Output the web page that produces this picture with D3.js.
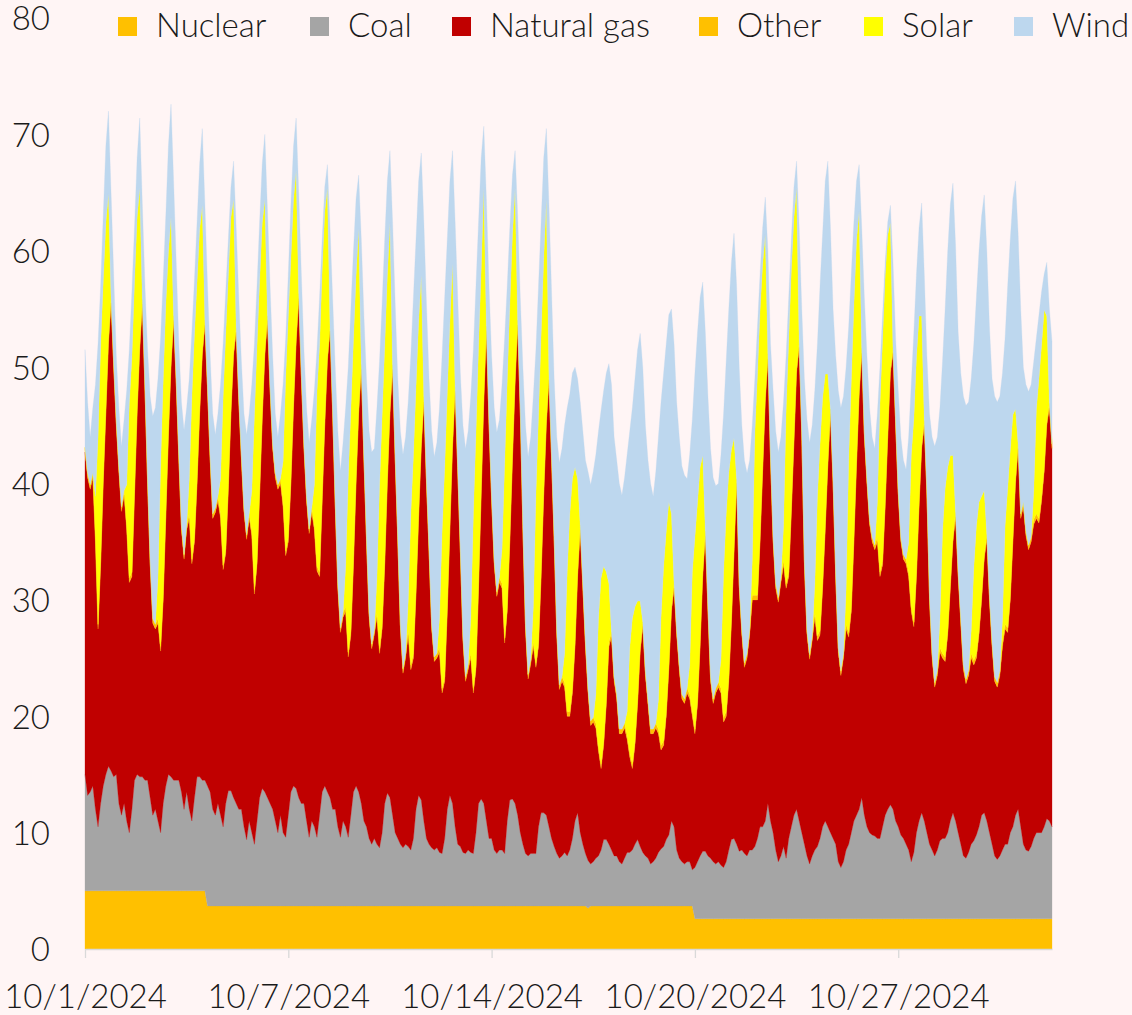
<!DOCTYPE html>
<html><head><meta charset="utf-8">
<script src="https://cdn.jsdelivr.net/npm/d3@7"></script>
<style>
html,body{margin:0;padding:0;background:#FFF5F5;}
svg{display:block;}
text{font-family:Lato,"Open Sans",sans-serif;font-weight:300;fill:#1a1a1a;}
</style></head><body>
<svg id="c" width="1132" height="1015"></svg>
<script>
// ---- data: October 2024, values sampled every 2 hours (GW) ----
const days = ["10/1/2024","10/2/2024","10/3/2024","10/4/2024","10/5/2024","10/6/2024","10/7/2024","10/8/2024","10/9/2024","10/10/2024","10/11/2024","10/12/2024","10/13/2024","10/14/2024","10/15/2024","10/16/2024","10/17/2024","10/18/2024","10/19/2024","10/20/2024","10/21/2024","10/22/2024","10/23/2024","10/24/2024","10/25/2024","10/26/2024","10/27/2024","10/28/2024","10/29/2024","10/30/2024","10/31/2024"];
const sampleHours = [0,2,4,6,8,10,12,14,16,18,20,22];
const tickLabels = ["10/1/2024","10/7/2024","10/14/2024","10/20/2024","10/27/2024"];
const tickHours = [0,156,312,468,624];
const yTicks = [0,10,20,30,40,50,60,70,80];
const seriesNames = ["Nuclear","Coal","Natural gas","Other","Solar","Wind"];
const seriesColors = ["#FFC000","#A5A5A5","#C00000","#FFC000","#FFFF00","#BDD7EE"];

const nuclear = [
5,5,5,5,5,5,5,5,5,5,5,5,
5,5,5,5,5,5,5,5,5,5,5,5,
5,5,5,5,5,5,5,5,5,5,5,5,
5,5,5,5,5,5,5,5,5,5,5,3.7,
3.7,3.7,3.7,3.7,3.7,3.7,3.7,3.7,3.7,3.7,3.7,3.7,
3.7,3.7,3.7,3.7,3.7,3.7,3.7,3.7,3.7,3.7,3.7,3.7,
3.7,3.7,3.7,3.7,3.7,3.7,3.7,3.7,3.7,3.7,3.7,3.7,
3.7,3.7,3.7,3.7,3.7,3.7,3.7,3.7,3.7,3.7,3.7,3.7,
3.7,3.7,3.7,3.7,3.7,3.7,3.7,3.7,3.7,3.7,3.7,3.7,
3.7,3.7,3.7,3.7,3.7,3.7,3.7,3.7,3.7,3.7,3.7,3.7,
3.7,3.7,3.7,3.7,3.7,3.7,3.7,3.7,3.7,3.7,3.7,3.7,
3.7,3.7,3.7,3.7,3.7,3.7,3.7,3.7,3.7,3.7,3.7,3.7,
3.7,3.7,3.7,3.7,3.7,3.7,3.7,3.7,3.7,3.7,3.7,3.7,
3.7,3.7,3.7,3.7,3.7,3.7,3.7,3.7,3.7,3.7,3.7,3.7,
3.7,3.7,3.7,3.7,3.7,3.7,3.7,3.7,3.7,3.7,3.7,3.7,
3.7,3.7,3.7,3.7,3.7,3.7,3.7,3.7,3.7,3.7,3.7,3.7,
3.7,3.5,3.7,3.7,3.7,3.7,3.7,3.7,3.7,3.7,3.7,3.7,
3.7,3.7,3.7,3.7,3.7,3.7,3.7,3.7,3.7,3.7,3.7,3.7,
3.7,3.7,3.7,3.7,3.7,3.7,3.7,3.7,3.7,3.7,3.7,3.7,
3.7,3.7,3.7,3.7,3.7,3.7,2.6,2.6,2.6,2.6,2.6,2.6,
2.6,2.6,2.6,2.6,2.6,2.6,2.6,2.6,2.6,2.6,2.6,2.6,
2.6,2.6,2.6,2.6,2.6,2.6,2.6,2.6,2.6,2.6,2.6,2.6,
2.6,2.6,2.6,2.6,2.6,2.6,2.6,2.6,2.6,2.6,2.6,2.6,
2.6,2.6,2.6,2.6,2.6,2.6,2.6,2.6,2.6,2.6,2.6,2.6,
2.6,2.6,2.6,2.6,2.6,2.6,2.6,2.6,2.6,2.6,2.6,2.6,
2.6,2.6,2.6,2.6,2.6,2.6,2.6,2.6,2.6,2.6,2.6,2.6,
2.6,2.6,2.6,2.6,2.6,2.6,2.6,2.6,2.6,2.6,2.6,2.6,
2.6,2.6,2.6,2.6,2.6,2.6,2.6,2.6,2.6,2.6,2.6,2.6,
2.6,2.6,2.6,2.6,2.6,2.6,2.6,2.6,2.6,2.6,2.6,2.6,
2.6,2.6,2.6,2.6,2.6,2.6,2.6,2.6,2.6,2.6,2.6,2.6,
2.6,2.6,2.6,2.6,2.6,2.6,2.6,2.6,2.6,2.6,2.6,2.6
];

const coal = [
10,8.2,8.5,9,7,5.5,7.5,9,10,10.7,10.3,9.8,
10,7.5,6.5,7.5,6,5,7,9.5,10,9.8,9.8,9.5,
9.5,8,6.5,7,6,5,7.5,9,10,9.8,9.5,9.5,
9.5,8.5,7,8.5,7,6,8,9.8,9.8,9.5,9.5,10.3,
9.8,8.3,7.8,8.8,7.8,6.8,8.8,9.9,9.9,9.3,8.8,8.3,
8.3,6.8,5.7,7.3,6.3,5.3,7.3,9.3,10.1,9.8,9.3,8.8,
8.3,7.3,6.3,7.8,6.3,5.9,7.8,9.8,10.3,10.1,9.3,8.8,
8.8,7.3,5.9,7.3,6.8,5.9,7.8,9.8,10.3,9.8,9.3,8.3,
8.3,6.8,5.9,7.3,6.8,5.9,7.8,9.8,10.3,9.8,8.8,7.3,
6.8,5.8,5.3,5.8,5.3,5,6.3,8.8,9.7,9.3,7.8,6.3,
5.8,5.3,5,5.3,5.1,4.8,5.8,8.3,9.5,9.1,7.3,5.8,
5.3,5,4.8,5,4.6,4.5,5.8,8.3,9.5,8.8,6.8,5.3,
5.1,4.6,4.5,4.8,4.6,4.5,6.3,8.8,9.2,8.8,7.3,5.8,
5.8,4.8,4.5,4.8,4.8,4.5,7.3,9.1,9.2,8.8,7.8,6.3,
5.3,4.5,4.3,4.5,4.5,4.5,6.8,8,8,7.8,6.8,5.8,
5.1,4.5,4.1,4.3,4.6,4.3,4.8,5.8,7.3,8,6.3,5.3,
4.5,4.1,3.6,3.8,4.1,4.3,4.8,5.7,5.7,5.3,4.8,4.3,
4.3,3.8,3.6,4.1,4.6,4.6,4.8,5.3,5.7,5.1,4.6,4.3,
4.1,3.6,3.8,4.1,4.6,4.9,5.1,5.7,6.1,7.3,6.8,4.8,
4.1,3.8,3.6,3.8,3.8,3.1,4.4,4.9,5.4,5.8,5.8,5.4,
5.2,4.9,4.7,4.9,4.6,4.4,4.9,5.9,6.8,6.9,6.4,5.8,
5.9,5.6,5.4,5.9,5.9,6.2,6.9,7.9,7.9,8.4,9.9,8.4,
7.4,5.9,4.9,5.4,6.2,5.2,6.9,7.9,8.9,9.4,8.4,7.4,
6.4,5.4,4.7,5.4,5.9,6.2,6.9,7.9,8.4,7.9,7.4,6.9,
6.4,4.9,4.4,4.9,5.9,6.4,7.4,8.4,8.9,9.4,10.4,8.9,
7.9,7.4,7.2,7.1,6.9,6.9,7.9,8.9,9.4,9.8,9.4,8.4,
7.9,7.2,6.9,6.4,5.9,4.9,5.7,7.4,8.4,9.1,8.4,7.4,
6.4,5.9,5.4,5.9,6.7,6.9,6.9,7.4,8.4,9.1,8.4,7.4,
6.4,5.4,5.2,5.7,6.4,6.7,7.2,7.9,8.9,9.1,8.4,7.4,
6.4,5.4,5.1,5.4,5.9,6.4,6.4,7.4,7.9,8.9,9.4,7.9,
6.4,5.9,5.8,6.2,6.9,7.4,7.4,7.4,7.9,8.6,8.4,7.9
];

const gas = [
27.7,27.3,26,26.5,23,17,20.5,26,31,36.3,40.2,35.2,
30,28.5,26.1,26.5,25,21.5,20,24.5,31,36.7,40.6,33.5,
25.5,20,16.5,15.5,17,15.6,17.5,23,29,35.2,39.5,34,
27.5,22.5,21.5,22.5,25,22.1,22,25.2,31.2,36.5,39.1,34,
28.5,25,26,26,25.5,22.1,21.5,25.9,32.4,38,40.5,35,
30,27,25.8,26,25.5,21.5,22,26,31.7,37.5,41,35.5,
31,29.5,29.5,28.5,28,24.2,23.5,26.5,32.5,38.2,42.9,36.5,
30.5,27.5,26.1,26.5,25.5,22.9,20.5,25,31,37,40.1,34,
26,20.5,17.6,17.5,18.5,15.5,15.5,19.5,26,32.5,37.3,31,
24.5,19,16.8,17.5,19.5,16.7,17.5,20.5,26.6,33,38.3,32,
25.5,18.5,15,16,18.2,15.5,15.5,18.5,23.8,30.2,36,30.5,
25,18.8,16.2,16.3,17.2,13.8,13.5,17,22.8,30.5,37.4,32,
25.2,18.2,14.8,15.5,16.7,13.8,14,18.5,26.1,34.5,42.1,35.5,
29,24.5,22.1,23,22.5,18.1,18,22.2,29.1,36,42.1,36,
27,19.3,15.2,16.3,17.8,16,15.5,20.3,27.3,33.5,38.4,32.5,
26.2,18.8,14.5,15,14.2,12,11.5,12.5,15,20.3,26,22,
17.8,14.4,11.9,12,11.2,9,7,8.1,11.6,17,18.3,15,
13.5,11,11.2,11.2,9.7,8.2,7,8.5,11.6,16.7,19.4,15.5,
13.2,11.2,11,11.2,10.2,8.5,8.7,10.6,14.2,18,20.5,18.5,
16.2,14,13.8,14.5,14,13.2,11.5,13.5,18,23.6,27.1,21,
15.2,13.6,14.7,15,14.8,12.5,12.5,14.5,18.6,24.5,31,22.6,
18.5,16,17,18.5,21.5,21.2,20.5,24.5,30.5,36,38.2,31,
25,22.5,22.3,23.5,24.2,23.2,22.5,27,32,37.5,40.7,34,
24,19,17.6,18.5,20,17.7,17.5,20.5,25,31,36,30.5,
23,18,16.5,17.5,19,17.8,19,24,30,35.5,38.2,32.5,
29.5,26.5,25.2,24.6,25.5,22.5,22.5,26.5,32,37.1,39.2,34,
28.5,25.2,24,24.1,23.5,21.5,19.4,22,27,31.3,34,29,
21,16.5,14.5,15,16.2,15.5,15.2,17,20,23.3,26.1,22,
19,16,15,15.2,16,15.1,15.2,16.5,18.5,21.8,24.2,20,
17,15,14.8,15.5,17.5,18.5,18.2,20,24.5,28.5,31,26.5,
29,27,25.9,26.2,27,27,26.6,28.5,30.5,33.8,35.5,32.5
];

const other = [
0.4,0.4,0.4,0.4,0.4,0.4,0.4,0.4,0.4,0.4,0.4,0.4,
0.4,0.4,0.4,0.4,0.4,0.4,0.4,0.4,0.4,0.4,0.4,0.4,
0.4,0.4,0.4,0.4,0.4,0.4,0.4,0.4,0.4,0.4,0.4,0.4,
0.4,0.4,0.4,0.4,0.4,0.4,0.4,0.4,0.4,0.4,0.4,0.4,
0.4,0.4,0.4,0.4,0.4,0.4,0.4,0.4,0.4,0.4,0.4,0.4,
0.4,0.4,0.4,0.4,0.4,0.4,0.4,0.4,0.4,0.4,0.4,0.4,
0.4,0.4,0.4,0.4,0.4,0.4,0.4,0.4,0.4,0.4,0.4,0.4,
0.4,0.4,0.4,0.4,0.4,0.4,0.4,0.4,0.4,0.4,0.4,0.4,
0.4,0.4,0.4,0.4,0.4,0.4,0.4,0.4,0.4,0.4,0.4,0.4,
0.4,0.4,0.4,0.4,0.4,0.4,0.4,0.4,0.4,0.4,0.4,0.4,
0.4,0.4,0.4,0.4,0.4,0.4,0.4,0.4,0.4,0.4,0.4,0.4,
0.4,0.4,0.4,0.4,0.4,0.4,0.4,0.4,0.4,0.4,0.4,0.4,
0.4,0.4,0.4,0.4,0.4,0.4,0.4,0.4,0.4,0.4,0.4,0.4,
0.4,0.4,0.4,0.4,0.4,0.4,0.4,0.4,0.4,0.4,0.4,0.4,
0.4,0.4,0.4,0.4,0.4,0.4,0.4,0.4,0.4,0.4,0.4,0.4,
0.4,0.4,0.4,0.4,0.4,0.4,0.4,0.4,0.4,0.4,0.4,0.4,
0.4,0.4,0.4,0.4,0.4,0.4,0.4,0.4,0.4,0.4,0.4,0.4,
0.4,0.4,0.4,0.4,0.4,0.4,0.4,0.4,0.4,0.4,0.4,0.4,
0.4,0.4,0.4,0.4,0.4,0.4,0.4,0.4,0.4,0.4,0.4,0.4,
0.4,0.4,0.4,0.4,0.4,0.4,0.4,0.4,0.4,0.4,0.4,0.4,
0.4,0.4,0.4,0.4,0.4,0.4,0.4,0.4,0.4,0.4,0.4,0.4,
0.4,0.4,0.4,0.4,0.4,0.4,0.4,0.4,0.4,0.4,0.4,0.4,
0.4,0.4,0.4,0.4,0.4,0.4,0.4,0.4,0.4,0.4,0.4,0.4,
0.4,0.4,0.4,0.4,0.4,0.4,0.4,0.4,0.4,0.4,0.4,0.4,
0.4,0.4,0.4,0.4,0.4,0.4,0.4,0.4,0.4,0.4,0.4,0.4,
0.4,0.4,0.4,0.4,0.4,0.4,0.4,0.4,0.4,0.4,0.4,0.4,
0.4,0.4,0.4,0.4,0.4,0.4,0.4,0.4,0.4,0.4,0.4,0.4,
0.4,0.4,0.4,0.4,0.4,0.4,0.4,0.4,0.4,0.4,0.4,0.4,
0.4,0.4,0.4,0.4,0.4,0.4,0.4,0.4,0.4,0.4,0.4,0.4,
0.4,0.4,0.4,0.4,0.4,0.4,0.4,0.4,0.4,0.4,0.4,0.4,
0.4,0.4,0.4,0.4,0.4,0.4,0.4,0.4,0.4,0.4,0.4,0.4
];

const solar = [
0,0,0,0,3.5,16,18.5,17,16,12.5,0,0,
0,0,0,0,3.5,15,18.5,18,16.5,13.5,0,0,
0,0,0,0,3.5,15.5,18.5,18,15.5,12.5,0,0,
0,0,0,0,3,14,17.5,17,15.5,12.5,0,0,
0,0,0,0,3,14.5,18.5,18,16.5,13,0,0,
0,0,0,0,3.5,15,18.5,18,16.5,13,0,0,
0,0,0,0,3.5,15,19,19,17.5,14.5,0,0,
0,0,0,0,3.5,15,19.5,19.5,18,14.5,0,0,
0,0,0,0,3.5,15,19,19,17.5,15.5,0,0,
0,0,0,0,3,14,18,18.5,17.5,16,0,0,
0,0,0,0,2.5,13,17,17.5,16.5,14.5,0,0,
0,0,0,0,2.5,13.5,18,18.5,17.5,15.5,0,0,
0,0,0,0,3,15,20,20.5,19,18,0,0,
0,0,0,0,3,15,19.5,20,19,16.5,0,0,
0,0,0,0,3,14.5,19.5,20.5,20,19,0,0,
0,0,0,0,2.5,12,17,18,15,8,0,0,
0,0,0,0,2.5,11,16,15,11,5,0,0,
0,0,0,0,2,9,12.5,11.5,8.5,4,0,0,
0,0,0,0,2.5,11,15,15.5,14,8,0,0,
0,0,0,0,2.5,12,16.5,17,15,10,0,0,
0,0,0,0,2.5,12.5,17,17.5,14.5,9.5,0,0,
0,0,0,0,3,14,19,19.5,17.5,14,0,0,
0,0,0,0,3,15,20,20.5,19,15.5,0,0,
0,0,0,0,2.5,12,16,16,13,7.5,0,0,
0,0,0,0,3,15,19.5,20,19,15.5,0,0,
0,0,0,0,3,14.5,19,19.5,17,12.5,0,0,
0,0,0,0,2.5,13,17.5,18.5,16,11,0,0,
0,0,0,0,2.5,10.5,14.5,14,11,7,0,0,
0,0,0,0,2,8,11,11,8.5,5.5,0,0,
0,0,0,0,2,8.5,12,12.5,10.5,6,0,0,
0,0,0,0,2.5,9,12,13,13.5,9,0,0
];

const wind = [
8.4,6.1,4.1,5.6,9.6,8.1,5.1,5.6,6.6,7.1,9.1,7.6,
5.6,5.1,5.2,6.1,8.1,4.6,5.6,4.6,5.1,6,8.2,8.6,
11.1,14.1,17.4,18.6,17.1,11,8.6,7.6,9.1,9.7,11.6,10.1,
9.6,10.6,10.7,10.1,8.6,5.5,4.6,5.1,5.6,6.6,10,8.6,
8.6,8.6,6.3,7.1,8.1,4.5,3.6,3.1,2.6,3.3,8.6,8.6,
8.1,8.1,8.6,8.6,9.1,6.1,5.1,5.1,5.1,5.6,9.1,8.6,
7.6,5.1,4.1,5.6,6.6,3.3,3.6,4.6,4.6,4.5,8.7,8.6,
8.1,7.6,7.4,7.6,8.1,3.6,4.1,2.6,2.1,2,8.5,9.6,
11.6,13.1,13.5,14.6,13.6,9.5,8.6,7.6,6.6,4.6,10.8,12.1,
13.6,15.6,16.5,15.6,14.6,10.7,9.6,9.1,8.1,6.2,12.3,13.1,
13.6,16.6,18.4,18.6,17.1,13.6,13.6,12.6,12.1,10.5,15.1,15.1,
14.6,16.6,17.2,18.1,18.1,15.1,14.6,13.1,12.1,9.7,14.2,14.6,
15.1,18.1,19.6,20.1,19.1,14.1,12.6,10.6,9.6,5.3,11,11.6,
12.1,13.1,13.7,13.6,14.1,10.8,8.1,6.6,5.1,3.2,9,9.6,
13.6,17.1,18.7,19.1,18.1,12.4,11.1,9.6,8.6,6.1,14.7,14.1,
13.6,16.6,19.1,19.6,19.6,14.1,10.3,9.1,8.6,8.6,10.6,13.1,
15.6,18.6,20.3,21.1,20.6,16.1,14.4,15.1,17.1,18.9,21.3,20.6,
20.1,21.1,20.1,21.1,22.1,18.6,18.1,19.6,21.6,23,21.9,21.1,
20.6,21.1,20,21.6,22.6,18.5,16.6,16.1,16.1,17.6,20.6,19.6,
19.6,19.6,19.2,18,18.1,13.1,14.1,14.6,14.6,14.9,17.1,18.1,
19.6,19,17.4,17.1,17.6,13.6,13.1,14.1,16.1,17.6,16.6,18.6,
17.6,17.4,15.5,14.6,11.6,4.6,4.1,3.1,3.1,3.2,8.9,9.6,
12.6,13.1,12.5,12.1,10.6,4.6,3.6,2.6,2.6,2.3,9.9,10.6,
15.6,18.1,18.2,18.1,16.6,13.1,13.6,14.1,16.6,18.3,15.6,14.6,
18.6,22.1,22.6,22.1,19.1,11.3,9.1,7.1,5.1,4,10.4,11.6,
10.6,9.6,8.6,8.3,7.6,3.1,2.1,1.1,1.1,1.5,7.4,7.1,
8.6,8.6,8.1,7.7,9.1,6.1,7.4,7.1,7.6,9.7,12.6,11.6,
15.6,18.6,20.3,20.1,18.1,14.6,15.4,18.6,21.6,23.4,23,20.6,
21.1,23.1,23.5,23.1,21.6,19.2,19.6,21.6,24.1,25.4,24.4,23.1,
22.6,24.1,24.1,23.6,21.1,16.1,17.4,18.1,18.6,19.6,18.1,17.6,
11.6,12.6,13.2,13.1,11.1,6.1,5.5,4.6,3.1,4.6,8.1,8.8
];

// ---- build table ----
const seriesArrays = [nuclear, coal, gas, other, solar, wind];
const rows = [];
days.forEach((d, di) => {
  sampleHours.forEach((h, hi) => {
    const i = di * sampleHours.length + hi;
    const r = { t: di * 24 + h, label: d };
    seriesNames.forEach((k, ki) => { r[k] = seriesArrays[ki][i]; });
    rows.push(r);
  });
});

// ---- layout ----
const svg = d3.select("#c");
const W = 1132, H = 1015;
const plot = { left: 85, right: 1052, top: 18, bottom: 949 };
const fs = 33;

svg.append("rect").attr("width", W).attr("height", H).attr("fill", "#FFF5F5");

const x = d3.scaleLinear().domain([0, d3.max(rows, r => r.t)]).range([plot.left, plot.right]);
const y = d3.scaleLinear().domain([0, 80]).range([plot.bottom, plot.top]);

const stack = d3.stack().keys(seriesNames);
const layers = stack(rows);
const area = d3.area()
  .x(d => x(d.data.t))
  .y0(d => y(d[0]))
  .y1(d => y(d[1]))
  .curve(d3.curveLinear);

svg.append("g").selectAll("path").data(layers).join("path")
  .attr("d", area)
  .attr("fill", (d, i) => seriesColors[i])
  .attr("stroke", (d, i) => seriesColors[i])
  .attr("stroke-width", 0.3);

// x axis
const xAxis = d3.axisBottom(x)
  .tickValues(tickHours)
  .tickFormat((d, i) => tickLabels[i])
  .tickSize(9)
  .tickSizeOuter(0);
const gx = svg.append("g").attr("transform", `translate(0,${plot.bottom})`).call(xAxis);
gx.select(".domain").attr("stroke", "#D9D9D9").attr("stroke-width", 1.3);
gx.selectAll(".tick line").attr("stroke", "#D9D9D9").attr("stroke-width", 1.3);
gx.selectAll(".tick text")
  .attr("font-size", fs).attr("fill", "#1a1a1a")
  .attr("font-family", "Lato, 'Open Sans', sans-serif")
  .attr("y", 59).attr("dy", 0);

// y axis labels
const yAxis = d3.axisLeft(y).tickValues(yTicks).tickSize(0).tickPadding(0);
const gy = svg.append("g").attr("transform", `translate(50,0)`).call(yAxis);
gy.select(".domain").remove();
gy.selectAll(".tick text")
  .attr("font-size", fs).attr("fill", "#1a1a1a")
  .attr("font-family", "Lato, 'Open Sans', sans-serif")
  .attr("dy", "0.36em").attr("x", 0);

// legend
const legendX = [118, 310, 452, 699, 864, 1014];
const lg = svg.append("g");
seriesNames.forEach((n, i) => {
  lg.append("rect").attr("x", legendX[i]).attr("y", 17).attr("width", 19).attr("height", 19)
    .attr("fill", seriesColors[i]);
  lg.append("text").attr("x", legendX[i] + 38).attr("y", 37)
    .attr("font-size", fs).text(n);
});
</script>
</body></html>
